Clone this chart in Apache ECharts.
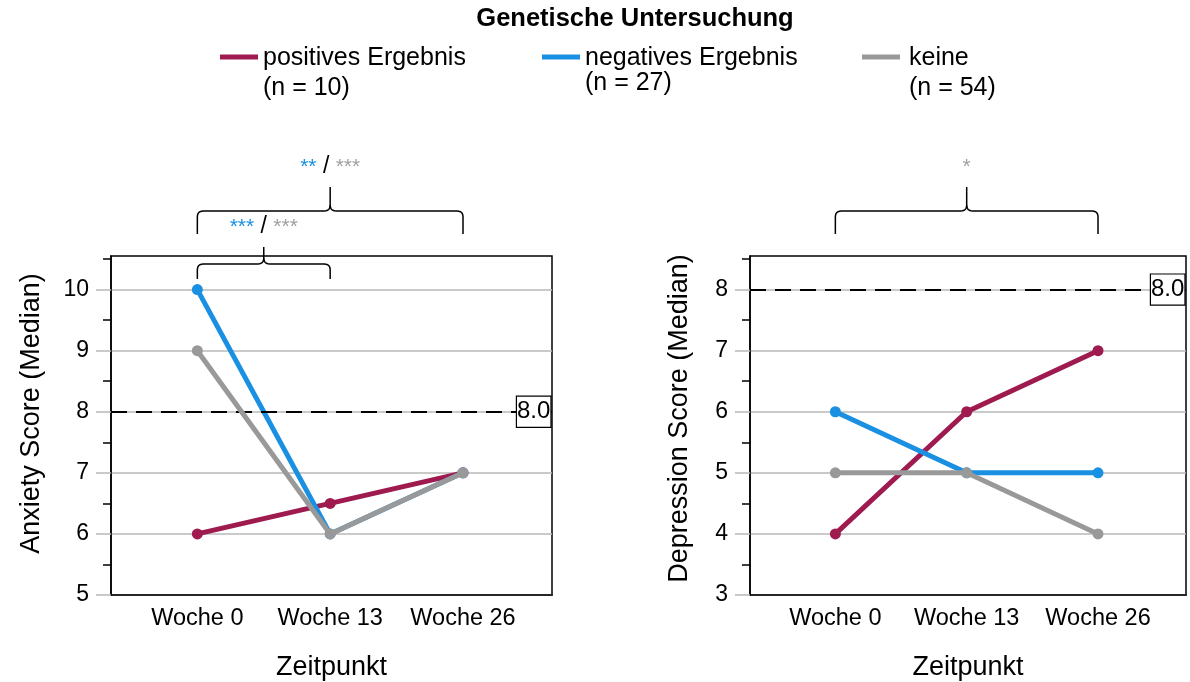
<!DOCTYPE html>
<html><head><meta charset="utf-8">
<script src="https://cdn.jsdelivr.net/npm/echarts@6/dist/echarts.min.js"></script>
<style>html,body{margin:0;padding:0;background:#fff}#c{width:1190px;height:682px}</style>
</head><body><div id="c"></div>
<script>
// ---- data ----
const timepoints = ['Woche 0', 'Woche 13', 'Woche 26'];
const groupNames = ['positives Ergebnis', 'negatives Ergebnis', 'keine'];
const groupN = [10, 27, 54];
const anxietyPositive = [6, 6.5, 7];
const anxietyNegative = [10, 6, 7];
const anxietyKeine = [9, 6, 7];
const depressionPositive = [4, 6, 7];
const depressionNegative = [6, 5, 5];
const depressionKeine = [5, 5, 4];
const anxietyTicks = [5, 6, 7, 8, 9, 10];
const depressionTicks = [3, 4, 5, 6, 7, 8];
const referenceValue = 8;
// significance brackets: [fromIndex, toIndex], stars for negative / keine
const anxietyBrackets = [[0, 1], [0, 2]];
const anxietyStarsNegative = ['***', '**'];
const anxietyStarsKeine = ['***', '***'];
const depressionBrackets = [[0, 2]];
const depressionStarsNegative = [''];
const depressionStarsKeine = ['*'];

// ---- style ----
const FONT = 'Liberation Sans, Arial, Helvetica, sans-serif';
const colors = ['#9e1a4f', '#1a90e2', '#999999'];
const gridColor = '#b8b8b8';

const chart = echarts.init(document.getElementById('c'), null, {renderer: 'canvas'});

const grids = [
  {left: 111, top: 256, width: 441, height: 339},
  {left: 750, top: 256, width: 436, height: 339}
];
const panels = [
  {name: 'Anxiety Score (Median)', ticks: anxietyTicks, series: [anxietyPositive, anxietyNegative, anxietyKeine], nameGap: 66, namePad: [0, 0, 0, 24]},
  {name: 'Depression Score (Median)', ticks: depressionTicks, series: [depressionPositive, depressionNegative, depressionKeine], nameGap: 57, namePad: [0, 0, 0, 14]}
];

const xAxes = [], yAxes = [], series = [];
panels.forEach((p, gi) => {
  const yMin = p.ticks[0];
  const yMax = p.ticks[p.ticks.length - 1] + 0.55;
  xAxes.push({
    type: 'value', gridIndex: gi, min: 0.35, max: 3.67,
    axisLine: {show: true, onZero: false, lineStyle: {color: '#000', width: 1.5}},
    axisTick: {show: false},
    splitLine: {show: false},
    axisLabel: {customValues: [1, 2, 3], formatter: v => timepoints[Math.round(v) - 1] || '',
      fontSize: 23.5, color: '#000', fontFamily: FONT, margin: 12},
    name: 'Zeitpunkt', nameLocation: 'middle', nameGap: 59,
    nameTextStyle: {fontSize: 27, color: '#000', fontFamily: FONT}
  });
  yAxes.push({
    type: 'value', gridIndex: gi, min: yMin, max: yMax, interval: 1,
    axisLine: {show: true, lineStyle: {color: '#000', width: 1.5}},
    axisTick: {show: true, customValues: p.ticks, length: 15, lineStyle: {color: gridColor, width: 1.5}},
    axisLabel: {customValues: p.ticks, fontSize: 23, color: '#000', fontFamily: FONT, margin: 22},
    splitLine: {show: true, lineStyle: {color: gridColor, width: 1.5}},
    name: p.name, nameLocation: 'middle', nameGap: p.nameGap, nameRotate: 90,
    nameTextStyle: {fontSize: 27, color: '#000', fontFamily: FONT, padding: p.namePad}
  });
  yAxes.push({
    type: 'value', gridIndex: gi, min: yMin, max: yMax, interval: 0.5, position: 'left', offset: 0,
    axisLine: {show: false},
    axisTick: {show: true, customValues: p.ticks.map(v => v + 0.5), length: 8, lineStyle: {color: '#000', width: 1.5}},
    axisLabel: {show: false},
    splitLine: {show: false}
  });
  p.series.forEach((vals, si) => {
    const s = {
      type: 'line', name: groupNames[si], xAxisIndex: gi, yAxisIndex: gi * 2,
      data: vals.map((v, i) => [i + 1, v]),
      symbol: 'circle', symbolSize: 11, showSymbol: true,
      itemStyle: {color: colors[si]},
      lineStyle: {color: colors[si], width: 5},
      z: 3 + si
    };
    if (si === 0) {
      s.markLine = {
        silent: true, symbol: ['none', 'none'], animation: false,
        lineStyle: {color: '#000', type: [16, 9], width: 2},
        label: {show: true, position: 'end', distance: 0, offset: [-35, 0], formatter: referenceValue.toFixed(1),
          fontSize: 24, color: '#000', fontFamily: FONT, backgroundColor: '#fff',
          borderColor: '#000', borderWidth: 1.2, padding: [3, 0, 3, 0]},
        data: [{yAxis: referenceValue}]
      };
    }
    series.push(s);
  });
});

// legend + title graphics
const legendLineX = [220, 542, 862];
const legendTextX = [263, 585, 909];
const legendSecondY = [88, 83, 88];
const graphics = [{
  type: 'text', x: 635, y: 19,
  style: {text: 'Genetische Untersuchung', font: 'bold 25.5px ' + FONT, fill: '#000', textAlign: 'center', textVerticalAlign: 'middle'}
}];
groupNames.forEach((g, i) => {
  graphics.push({type: 'line', shape: {x1: legendLineX[i], y1: 57, x2: legendLineX[i] + 38, y2: 57},
    style: {stroke: colors[i], lineWidth: 5}});
  graphics.push({type: 'text', x: legendTextX[i], y: 58,
    style: {text: g, font: '25px ' + FONT, fill: '#000', textAlign: 'left', textVerticalAlign: 'middle'}});
  graphics.push({type: 'text', x: legendTextX[i], y: legendSecondY[i],
    style: {text: '(n = ' + groupN[i] + ')', font: '25px ' + FONT, fill: '#000', textAlign: 'left', textVerticalAlign: 'middle'}});
});

chart.setOption({
  animation: false,
  backgroundColor: '#fff',
  textStyle: {fontFamily: FONT},
  grid: grids.map(g => Object.assign({show: true, borderColor: '#000', borderWidth: 1.5, backgroundColor: 'transparent'}, g)),
  xAxis: xAxes,
  yAxis: yAxes,
  series: series,
  graphic: graphics
});

// brace drawn as polylines computed from axis positions
function quad(p0, p1, p2, n) {
  const pts = [];
  for (let i = 1; i <= n; i++) {
    const t = i / n, u = 1 - t;
    pts.push([u * u * p0[0] + 2 * u * t * p1[0] + t * t * p2[0], u * u * p0[1] + 2 * u * t * p1[1] + t * t * p2[1]]);
  }
  return pts;
}
function bracePolylines(x1, x2, yH, yEnd, yTip) {
  const r = 6, xm = (x1 + x2) / 2;
  const left = [[x1, yEnd], [x1, yH + r]]
    .concat(quad([x1, yH + r], [x1, yH], [x1 + r, yH], 6))
    .concat([[xm - r, yH]])
    .concat(quad([xm - r, yH], [xm, yH], [xm, yH - r], 6))
    .concat([[xm, yTip]]);
  const right = [[xm, yH - r]]
    .concat(quad([xm, yH - r], [xm, yH], [xm + r, yH], 6))
    .concat([[x2 - r, yH]])
    .concat(quad([x2 - r, yH], [x2, yH], [x2, yH + r], 6))
    .concat([[x2, yEnd]]);
  return [left, right];
}
const braceLevels = [
  {yH: 8, yEnd: 23, yTip: -9, text: -29},
  {yH: -45, yEnd: -22, yTip: -69, text: -89}
];
const extra = [];
[[anxietyBrackets, anxietyStarsNegative, anxietyStarsKeine], [depressionBrackets, depressionStarsNegative, depressionStarsKeine]].forEach((b, gi) => {
  const top = grids[gi].top;
  b[0].forEach((pair, k) => {
    const level = braceLevels[gi === 0 ? k : 1];
    const x1 = chart.convertToPixel({xAxisIndex: gi, yAxisIndex: gi * 2}, [pair[0] + 1, 0])[0];
    const x2 = chart.convertToPixel({xAxisIndex: gi, yAxisIndex: gi * 2}, [pair[1] + 1, 0])[0];
    bracePolylines(x1, x2, top + level.yH, top + level.yEnd, top + level.yTip).forEach(pts => {
      extra.push({type: 'polyline', shape: {points: pts}, style: {stroke: '#000', lineWidth: 1.5, fill: null}});
    });
    const neg = b[1][k], kei = b[2][k];
    const txt = neg ? `{b|${neg}}{s| / }{g|${kei}}` : `{g|${kei}}`;
    extra.push({type: 'text', x: (x1 + x2) / 2, y: top + level.text,
      style: {text: txt, textAlign: 'center', textVerticalAlign: 'middle',
        rich: {b: {fill: colors[1], fontSize: 21, fontFamily: FONT},
               g: {fill: '#a0a0a0', fontSize: 21, fontFamily: FONT},
               s: {fill: '#000', fontSize: 23, fontFamily: FONT}}}});
  });
});
chart.setOption({graphic: graphics.concat(extra)});
</script></body></html>
